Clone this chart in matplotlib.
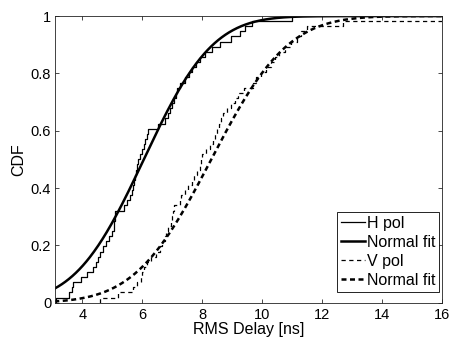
import math
import numpy as np
import matplotlib
matplotlib.use("Agg")
import matplotlib.pyplot as plt

plt.rcParams['font.family'] = ['Liberation Sans', 'DejaVu Sans']
plt.rcParams['font.size'] = 10

# ---- data ----
# RMS delay samples [ns], H polarisation
h_pol = [3.12, 3.55, 3.65, 3.70, 3.95, 4.17, 4.35, 4.44, 4.52, 4.60,
         4.68, 4.78, 4.88, 4.98, 5.05, 5.07, 5.08, 5.10, 5.40, 5.50,
         5.60, 5.65, 5.70, 5.73, 5.76, 5.78, 5.81, 5.86, 5.92, 5.98,
         6.04, 6.10, 6.15, 6.20, 6.53, 6.75, 6.87, 6.93, 6.99, 7.05,
         7.11, 7.17, 7.27, 7.42, 7.56, 7.66, 7.78, 7.93, 8.10, 8.33,
         8.60, 8.95, 9.25, 9.41, 9.65, 11.00]
# RMS delay samples [ns], V polarisation
v_pol = [4.60, 5.20, 5.68, 5.82, 5.94, 5.99, 6.05, 6.15, 6.30, 6.45,
         6.60, 6.67, 6.74, 6.80, 6.87, 6.94, 7.00, 7.02, 7.05, 7.25,
         7.30, 7.43, 7.53, 7.64, 7.73, 7.83, 7.93, 7.96, 7.99, 8.13,
         8.24, 8.35, 8.42, 8.49, 8.55, 8.62, 8.70, 8.83, 8.95, 9.08,
         9.20, 9.40, 9.68, 9.80, 9.96, 10.13, 10.29, 10.41, 10.54, 10.74,
         10.95, 11.15, 11.30, 11.50, 12.70, 17.00]
# normal fit parameters (mean, std) [ns]
h_fit = (6.05, 1.80)
v_fit = (8.3, 2.0)

x_ticks = [4, 6, 8, 10, 12, 14, 16]
y_ticks = [0, 0.2, 0.4, 0.6, 0.8, 1]
y_tick_labels = ['0', '0.2', '0.4', '0.6', '0.8', '1']
legend_labels = ['H pol', 'Normal fit', 'V pol', 'Normal fit']
x_label = 'RMS Delay [ns]'
y_label = 'CDF'


def ecdf_xy(samples):
    s = np.sort(np.asarray(samples, float))
    n = len(s)
    xs = np.concatenate([[s[0]], s, [30.0]])
    ys = np.concatenate([[0.0], np.arange(1, n + 1) / n, [1.0]])
    return xs, ys


def norm_cdf(x, mu, sd):
    return np.array([0.5 * (1 + math.erf((v - mu) / (sd * math.sqrt(2)))) for v in x])


fig = plt.figure(figsize=(4.49, 3.41), dpi=100)
ax = fig.add_axes([55.3 / 449, 38.3 / 341, 387 / 449, 286.7 / 341])

grid = np.linspace(2.5, 16.5, 600)

hx, hy = ecdf_xy(h_pol)
vx, vy = ecdf_xy(v_pol)

ax.plot(hx, hy, drawstyle='steps-post', color='black', lw=0.9, label=legend_labels[0])
ax.plot(grid, norm_cdf(grid, *h_fit), color='black', lw=1.8, label=legend_labels[1])
ax.plot(vx, vy, drawstyle='steps-post', color='black', lw=0.9,
        dashes=(3.4, 2.8), label=legend_labels[2])
ax.plot(grid, norm_cdf(grid, *v_fit), color='black', lw=1.8,
        dashes=(2.0, 1.4), label=legend_labels[3])

ax.set_xlim(3.1, 16)
ax.set_ylim(0, 1)
ax.set_xticks(x_ticks)
ax.set_yticks(y_ticks)
ax.set_yticklabels(y_tick_labels)
ax.tick_params(direction='in', length=3, width=0.5, top=True, right=True,
               colors='black', labelsize=10.5)
ax.tick_params(axis='x', pad=4)
ax.tick_params(axis='y', pad=3)
for sp in ax.spines.values():
    sp.set_linewidth(0.6)
    sp.set_color('#222222')

ax.set_xlabel(x_label, fontsize=11.5, labelpad=0)
ax.set_ylabel(y_label, fontsize=11.5, labelpad=3)

leg = ax.legend(loc='lower right', bbox_to_anchor=(0.9915, 0.038),
                borderaxespad=0, fancybox=False, framealpha=1,
                edgecolor='black', handlelength=1.5, handletextpad=0.1,
                labelspacing=0.25, borderpad=0.25, fontsize=11.5)
leg.get_frame().set_linewidth(0.6)

fig.savefig('out.png', dpi=100)
